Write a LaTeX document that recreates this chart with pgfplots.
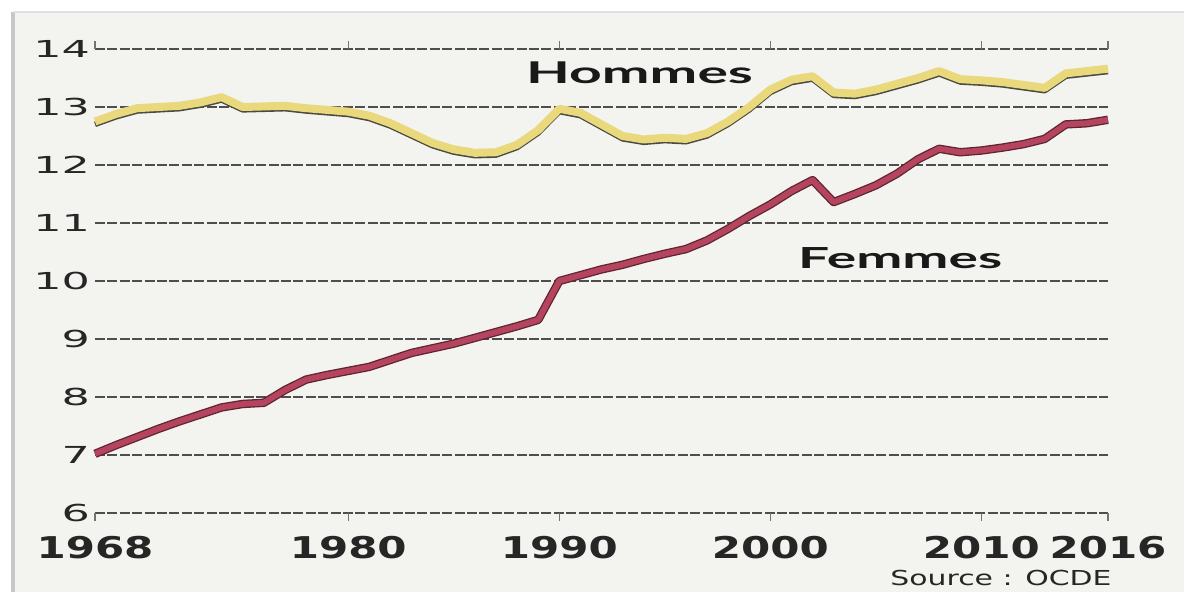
\documentclass[border=0pt]{standalone}
\usepackage{pgfplots}
\pgfplotsset{compat=1.18}
\usepackage{pgfplotstable}
\usepackage{fontspec}
\setmainfont{DejaVu Sans}
\newfontfamily\xtickfont[FakeStretch=1.4]{DejaVu Sans}
\newfontfamily\ytickfont[FakeStretch=1.9]{DejaVu Sans}
\newfontfamily\labfont[FakeStretch=1.9]{Lato}
\newfontfamily\srcfont[FakeStretch=1.45]{DejaVu Sans}
\definecolor{bg}{HTML}{F3F3F0}
\definecolor{hyellow}{HTML}{EAD97C}
\definecolor{hshadow}{HTML}{4A4A40}
\definecolor{fred}{HTML}{B5445F}
\definecolor{fdark}{HTML}{5E2432}
\definecolor{gridc}{HTML}{4E4E4E}

\pgfplotstableread{
year val
1968 12.75
1969 12.88
1970 12.98
1971 13.00
1972 13.02
1973 13.08
1974 13.17
1975 13.00
1976 13.01
1977 13.02
1978 12.98
1979 12.95
1980 12.92
1981 12.85
1982 12.72
1983 12.55
1984 12.38
1985 12.27
1986 12.21
1987 12.22
1988 12.35
1989 12.60
1990 12.97
1991 12.90
1992 12.70
1993 12.50
1994 12.44
1995 12.47
1996 12.45
1997 12.55
1998 12.75
1999 13.00
2000 13.30
2001 13.47
2002 13.53
2003 13.25
2004 13.23
2005 13.30
2006 13.40
2007 13.50
2008 13.62
2009 13.48
2010 13.46
2011 13.43
2012 13.38
2013 13.33
2014 13.58
2015 13.62
2016 13.66
}\hommes

\pgfplotstableread{
year val
1968 7.02
1969 7.17
1970 7.31
1971 7.45
1972 7.58
1973 7.70
1974 7.82
1975 7.88
1976 7.90
1977 8.12
1978 8.30
1979 8.38
1980 8.45
1981 8.52
1982 8.64
1983 8.76
1984 8.84
1985 8.92
1986 9.02
1987 9.12
1988 9.22
1989 9.33
1990 10.00
1991 10.10
1992 10.20
1993 10.28
1994 10.38
1995 10.47
1996 10.55
1997 10.70
1998 10.90
1999 11.12
2000 11.32
2001 11.55
2002 11.74
2003 11.36
2004 11.50
2005 11.65
2006 11.85
2007 12.10
2008 12.28
2009 12.22
2010 12.25
2011 12.30
2012 12.36
2013 12.45
2014 12.70
2015 12.72
2016 12.78
}\femmes

\begin{document}
\begin{tikzpicture}[x=1pt,y=1pt]
\useasboundingbox (0,0) rectangle (592,303.5);
\fill[white] (0,0) rectangle (592,303.5);
\fill[bg] (7,7.5) rectangle (592,297.5);
\draw[black!22, line width=1.6pt] (6.5,7.5) -- (6.5,297.5);
\draw[black!12, line width=0.8pt] (6.5,297.5) -- (592,297.5);
\begin{axis}[
  at={(47.5pt,47pt)}, anchor=south west,
  scale only axis, width=506.5pt, height=232pt,
  xmin=1968, xmax=2016, ymin=6, ymax=14,
  clip=false,
  axis line style={draw=none},
  xtick={1968,1980,1990,2000,2010,2016},
  xticklabels={1968,1980,1990,2000,2010,2016},
  ytick={6,7,8,9,10,11,12,13,14},
  yticklabels={6,7,8,9,10,11,12,13,14},
  xticklabel style={font=\xtickfont\bfseries\fontsize{15}{15}\selectfont, text=black!85, yshift=-4pt},
  yticklabel style={font=\ytickfont\fontsize{11.7}{12}\selectfont, text=black!85, xshift=5pt},
  tick align=outside,
  major tick length=4pt,
  xtick style={draw=black!55, line width=0.6pt},
  ytick style={draw=none},
  ymajorgrids,
  grid style={draw=gridc, line width=0.65pt, dash pattern=on 5pt off 1.2pt},
]
\addplot[draw=hshadow, line width=2.8pt, line join=round, yshift=-1.4pt] table[x=year,y=val] {\hommes};
\addplot[draw=hyellow, line width=4pt, line join=round] table[x=year,y=val] {\hommes};
\addplot[draw=fdark, line width=4.2pt, line join=round] table[x=year,y=val] {\femmes};
\addplot[draw=fred, line width=2.9pt, line join=round] table[x=year,y=val] {\femmes};
\node[font=\labfont\bfseries\fontsize{15}{15}\selectfont, text=black!90] at (axis cs:1993.8,13.59) {Hommes};
\node[font=\labfont\bfseries\fontsize{14.5}{15}\selectfont, text=black!90] at (axis cs:2006.15,10.4) {Femmes};
\end{axis}
\node[font=\srcfont\fontsize{10.3}{11}\selectfont, text=black!85] at (500.5,14.5) {Source : OCDE};
\end{tikzpicture}
\end{document}
